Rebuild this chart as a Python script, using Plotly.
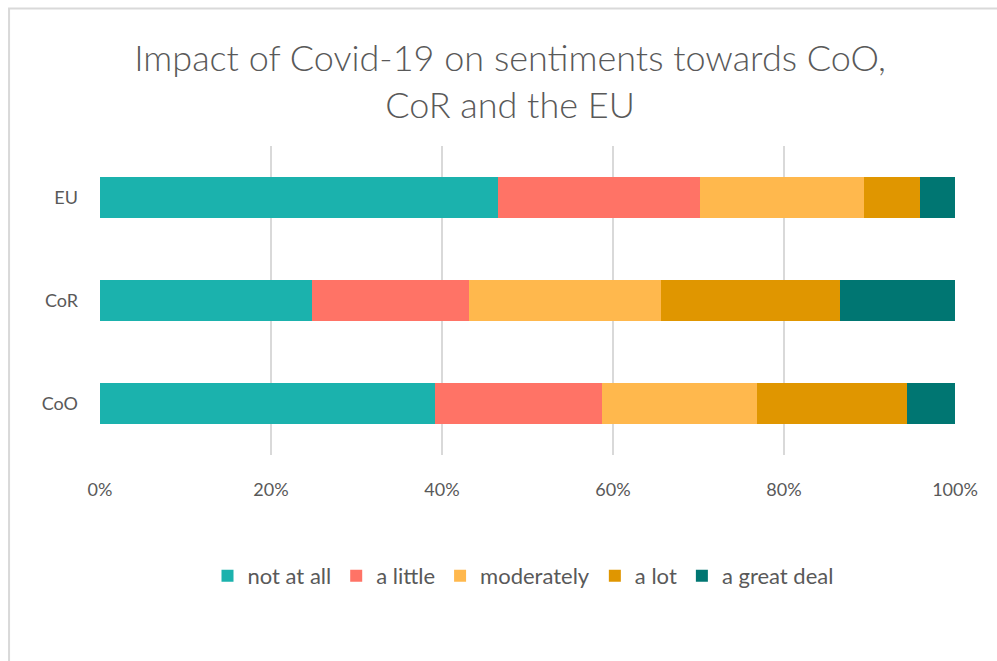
import plotly.graph_objects as go

# Survey groups (bottom to top on the chart)
groups = ["CoO", "CoR", "EU"]

# Share of respondents per answer, in percent
levels = ["not at all", "a little", "moderately", "a lot", "a great deal"]
not_at_all = [39.2, 24.8, 46.5]
a_little = [19.5, 18.3, 23.7]
moderately = [18.1, 22.5, 19.1]
a_lot = [17.6, 21.0, 6.6]
a_great_deal = [5.6, 13.4, 4.1]

series = [not_at_all, a_little, moderately, a_lot, a_great_deal]
colors = ["#1BB2AD", "#FF7366", "#FFB84D", "#E09600", "#007672"]

x_ticks = [0, 20, 40, 60, 80, 100]
x_tick_labels = ["0%", "20%", "40%", "60%", "80%", "100%"]

font_family = "Lato, sans-serif"
text_grey = "#595959"

fig = go.Figure()
for name, vals, col in zip(levels, series, colors):
    fig.add_trace(go.Bar(
        y=groups, x=vals, name=name, orientation="h",
        marker=dict(color=col, line=dict(width=0)),
        hoverinfo="x+y+name",
    ))

fig.update_layout(
    width=997, height=661,
    barmode="stack", bargap=0.594,
    paper_bgcolor="white", plot_bgcolor="white",
    margin=dict(l=99.5, r=42, t=146, b=206, autoexpand=False),
    title=dict(
        text="Impact of Covid-19 on sentiments towards CoO,<br>CoR and the EU",
        x=510 / 997, xanchor="center", xref="container",
        y=1 - 71 / 661, yanchor="middle", yref="container",
        font=dict(family=font_family, size=36, color=text_grey, weight=300),
    ),
    font=dict(family=font_family, color=text_grey, size=17),
    legend=dict(
        orientation="h", x=523 / 997, xanchor="center", xref="container",
        y=1 - 576 / 661, yanchor="middle", yref="container",
        font=dict(size=22, color=text_grey), traceorder="normal",
        itemwidth=30,
    ),
    showlegend=True,
)
fig.update_xaxes(
    range=[0, 100], tickvals=x_ticks, ticktext=x_tick_labels,
    showgrid=True, gridcolor="#d9d9d9", gridwidth=1.5,
    zeroline=False, showline=False, ticks="",
    ticklabelstandoff=22, tickfont=dict(size=18, color=text_grey),
)
fig.update_yaxes(
    showgrid=False, zeroline=False, showline=False, ticks="",
    ticklabelstandoff=21, tickfont=dict(size=18, color=text_grey),
)

# Light frame around the chart area
fig.add_shape(
    type="rect", xref="paper", yref="paper",
    x0=(8.5 - 99.5) / 855.5, x1=1 + 60 / 855.5,
    y0=-1, y1=1 + (146 - 8.5) / 309,
    line=dict(color="#d9d9d9", width=2), fillcolor="rgba(0,0,0,0)",
    layer="below",
)

fig.write_html("out.html")
